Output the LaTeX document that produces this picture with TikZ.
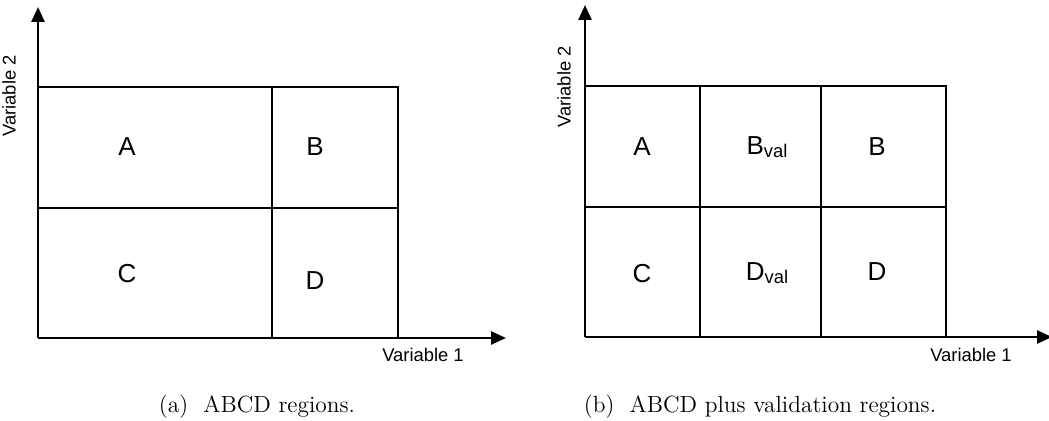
\documentclass[tikz,border=0pt]{standalone}
\usepackage{fontspec}
\newfontfamily\lab{Liberation Sans}
\usetikzlibrary{arrows.meta}
\tikzset{
  grid/.style={line width=1.3pt, black},
  axis/.style={line width=1.3pt, black, -{Triangle[length=7.5pt,width=6.5pt]}},
  region/.style={font=\lab\fontsize{13}{13}\selectfont, inner sep=0pt},
  axlabel/.style={font=\lab\fontsize{9.2}{9.2}\selectfont, inner sep=0pt},
  caption/.style={font=\fontsize{11.7}{11.7}\selectfont, inner sep=0pt}
}
\newcommand{\valsub}{{\fontsize{9.2}{9.2}\selectfont\raisebox{-1.2pt}{val}}}
\begin{document}
\begin{tikzpicture}[x=0.5pt,y=-0.5pt]
\useasboundingbox (0,0) rectangle (1049,421);
% ---------- panel (a)
\coordinate (ao) at (38,338);
\coordinate (ay) at (38,7);
\coordinate (ax) at (506,338);
\draw[grid] (38,87) -- (398,87) -- (398,338);
\draw[grid] (38,208) -- (398,208);
\draw[grid] (272,87) -- (272,338);
\draw[axis] (ao) -- (ay);
\draw[axis] (ao) -- (ax);
\node[region] (aA) at (127,147) {A};
\node[region] (aB) at (315,147) {B};
\node[region] (aC) at (127,274) {C};
\node[region] (aD) at (315,281) {D};
\node[axlabel] (ax1) at (423,355) {Variable 1};
\node[axlabel, rotate=90] (ax2) at (9,96) {Variable 2};
\node[caption] (capa) at (257,407) {(a)\ \ ABCD regions.};
% ---------- panel (b)
\coordinate (bo) at (585,337);
\coordinate (by) at (585,5);
\coordinate (bx) at (1052,337);
\draw[grid] (585,86) -- (946,86) -- (946,337);
\draw[grid] (585,207) -- (946,207);
\draw[grid] (700,86) -- (700,337);
\draw[grid] (821,86) -- (821,337);
\draw[axis] (bo) -- (by);
\draw[axis] (bo) -- (bx);
\node[region] (bA) at (642,147) {A};
\node[region] (bBv) at (767,147) {B\valsub};
\node[region] (bB) at (877,147) {B};
\node[region] (bC) at (642,274) {C};
\node[region] (bDv) at (767,273) {D\valsub};
\node[region] (bD) at (877,272) {D};
\node[axlabel] (bx1) at (971,355) {Variable 1};
\node[axlabel, rotate=90] (bx2) at (564,87) {Variable 2};
\node[caption] (capb) at (760,407) {(b)\ \ ABCD plus validation regions.};
\end{tikzpicture}
\end{document}
